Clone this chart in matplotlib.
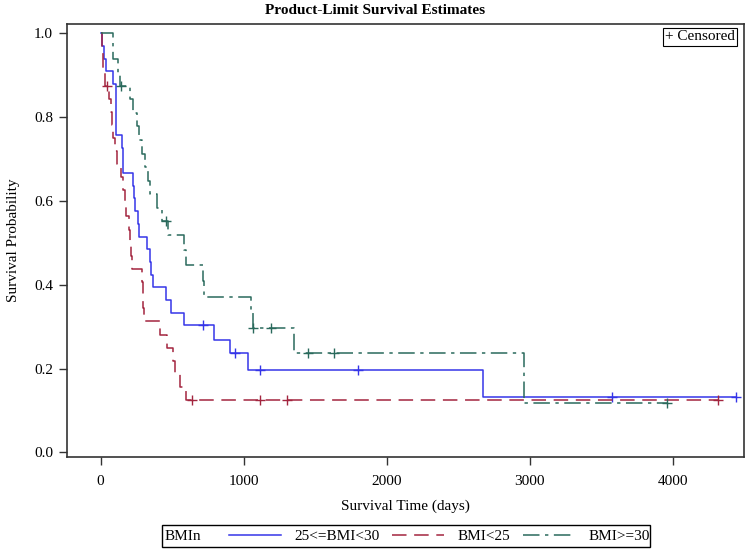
import numpy as np
import matplotlib.pyplot as plt
from matplotlib.lines import Line2D
from matplotlib.patches import Rectangle

plt.rcParams['font.family'] = ['Liberation Serif', 'DejaVu Serif']

# Kaplan-Meier step values
# 25<=BMI<30
t_mid = [0, 10, 25, 40, 87, 106, 107, 108, 110, 151, 155, 160, 228, 233, 240,
         264, 268, 327, 346, 355, 365, 459, 492, 586, 795, 905, 1028, 2676, 4441]
s_mid = [1.0, 0.970, 0.939, 0.909, 0.879, 0.848, 0.818, 0.788, 0.758, 0.727,
         0.697, 0.667, 0.636, 0.606, 0.576, 0.545, 0.515, 0.485, 0.455, 0.424,
         0.394, 0.364, 0.333, 0.303, 0.269, 0.236, 0.197, 0.131, 0.131]
cens_mid_t = [718, 940, 1117, 1803, 3574, 4441]
cens_mid_s = [0.303, 0.236, 0.197, 0.197, 0.131, 0.131]

# BMI<25
t_low = [0, 8, 14, 20, 30, 60, 70, 80, 90, 100, 115, 142, 155, 168, 177, 200,
         208, 213, 218, 290, 294, 298, 302, 415, 462, 508, 517, 555, 598, 4317]
s_low = [1.0, 0.969, 0.938, 0.906, 0.875, 0.844, 0.813, 0.781, 0.75, 0.719,
         0.688, 0.656, 0.625, 0.594, 0.563, 0.531, 0.5, 0.469, 0.438, 0.406,
         0.375, 0.344, 0.313, 0.281, 0.25, 0.219, 0.188, 0.156, 0.125, 0.125]
cens_low_t = [45, 639, 1115, 1303, 4317]
cens_low_s = [0.875, 0.125, 0.125, 0.125, 0.125]

# BMI>=30
t_high = [0, 87, 122, 139, 205, 228, 252, 268, 287, 311, 330, 346, 393, 429,
          470, 584, 597, 714, 723, 1052, 1064, 1354, 2960, 3963]
s_high = [1.0, 0.938, 0.906, 0.875, 0.843, 0.81, 0.778, 0.745, 0.713, 0.681,
          0.648, 0.616, 0.583, 0.551, 0.518, 0.482, 0.446, 0.408, 0.371, 0.334,
          0.297, 0.237, 0.119, 0.119]
cens_high_t = [146, 455, 1069, 1189, 1448, 1632, 3963]
cens_high_s = [0.875, 0.551, 0.297, 0.297, 0.237, 0.237, 0.119]

labels = ['25<=BMI<30', 'BMI<25', 'BMI>=30']
colors = ['#3535E8', '#A3253F', '#2A6A5C']
dashes = [(None, None), (9.5, 5.0), (10.8, 3.6, 2.2, 3.6)]

fig = plt.figure(figsize=(7.5, 5.52), dpi=100)
ax = fig.add_axes([67/750, 1-457/552, 677/750, 433/552])

groups = [(t_mid, s_mid, cens_mid_t, cens_mid_s),
          (t_low, s_low, cens_low_t, cens_low_s),
          (t_high, s_high, cens_high_t, cens_high_s)]

handles = []
for (t, s, ct, cs), lab, col, d in zip(groups, labels, colors, dashes):
    line, = ax.step(t, s, where='post', color=col, lw=1.1)
    if d[0] is not None:
        line.set_dashes(d)
    ax.plot(ct, cs, ls='none', marker='+', ms=7, mew=1.0, color=col)
    h = Line2D([], [], color=col, lw=1.1)
    if d[0] is not None:
        h.set_dashes(d)
    handles.append(h)

ax.set_xlim(-235, 4499)
ax.set_ylim(-0.011, 1.022)
ax.set_xticks([0, 1000, 2000, 3000, 4000])
ax.set_yticks([0.0, 0.2, 0.4, 0.6, 0.8, 1.0])
ax.set_yticklabels(['0.0', '0.2', '0.4', '0.6', '0.8', '1.0'])
ax.tick_params(direction='out', length=6, width=1.0, labelsize=11, color='#333333')
ax.tick_params(axis='x', pad=7)
ax.tick_params(axis='y', pad=4)
for sp in ax.spines.values():
    sp.set_linewidth(1.2)
    sp.set_color('#333333')

ax.set_xlabel('Survival Time (days)', fontsize=11, labelpad=8)
ax.set_ylabel('Survival Probability', fontsize=11, labelpad=10)

fig.text(0.5, 1-10/552, 'Product-Limit Survival Estimates', ha='center', va='center',
         fontsize=11, fontweight='bold')

ax.text(0.9863, 0.9855, '+ Censored', transform=ax.transAxes, ha='right', va='top',
        fontsize=11, bbox=dict(boxstyle='square,pad=0.15', fc='white', ec='black', lw=0.8))

# legend strip at the bottom
fig.patches.append(Rectangle((162/750, 5/552), 488/750, 22/552, transform=fig.transFigure,
                             fill=False, ec='black', lw=1.0))
fig.text(165/750, 1-536/552, 'BMIn', ha='left', va='center', fontsize=11)
fig.legend(handles, labels, ncol=3, loc='center left', bbox_to_anchor=(229/750, 1-536/552),
           frameon=False, fontsize=11, handlelength=3.4, handletextpad=0.9,
           columnspacing=0.8, borderpad=0, borderaxespad=0)

fig.savefig('out.png', dpi=100)
